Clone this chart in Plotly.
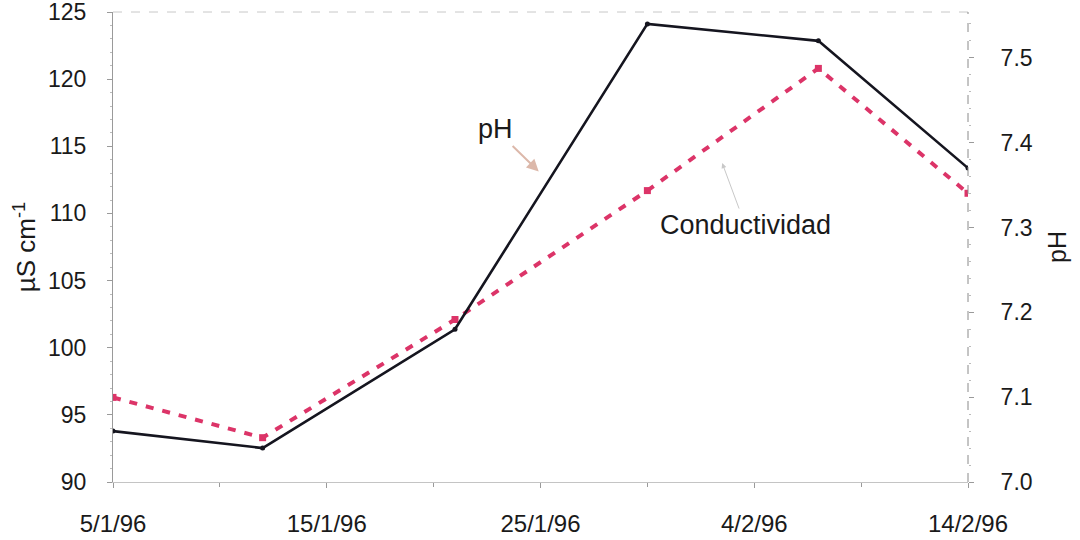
import plotly.graph_objects as go

# Data
fechas = ["1996-01-05", "1996-01-12", "1996-01-21", "1996-01-30", "1996-02-07", "1996-02-14"]
conductividad = [96.3, 93.3, 102.1, 111.7, 120.8, 111.5]   # µS cm-1 (left axis)
ph = [7.06, 7.04, 7.18, 7.54, 7.52, 7.37]                  # pH (right axis)

x_tick_vals = ["1996-01-05", "1996-01-15", "1996-01-25", "1996-02-04", "1996-02-14"]
x_tick_text = ["5/1/96", "15/1/96", "25/1/96", "4/2/96", "14/2/96"]
y_left_ticks = [90, 95, 100, 105, 110, 115, 120, 125]
y_right_ticks = [7.0, 7.1, 7.2, 7.3, 7.4, 7.5]

FONT = "Liberation Sans, Arial, sans-serif"
FS = 23
FA = 27
TXT = "#1a1a1a"
AX = "#9a9a9a"

fig = go.Figure()

fig.add_trace(go.Scatter(
    x=fechas, y=conductividad, name="Conductividad", yaxis="y",
    mode="lines+markers",
    line=dict(color="#dc3468", width=4, dash="8px,9px"),
    marker=dict(symbol="square", size=7, color="#dc3468"),
))
fig.add_trace(go.Scatter(
    x=fechas, y=ph, name="pH", yaxis="y2",
    mode="lines+markers",
    line=dict(color="#15151f", width=2.6),
    marker=dict(symbol="circle", size=5, color="#15151f"),
))

fig.update_layout(
    width=1080, height=540,
    margin=dict(l=113, r=112, t=12, b=58),
    paper_bgcolor="white", plot_bgcolor="white",
    showlegend=False,
    font=dict(family=FONT, size=FS, color=TXT),
    xaxis=dict(
        type="date", range=["1996-01-05", "1996-02-14"],
        tickvals=x_tick_vals, ticktext=x_tick_text,
        showgrid=False, zeroline=False, automargin=False,
        showline=True, linecolor="#c4c4c4", linewidth=1,
        ticks="outside", ticklen=5, tickcolor=AX,
        minor=dict(dtick=5 * 86400000, tick0="1996-01-05", ticks="outside", ticklen=4, tickcolor=AX),
        ticklabelstandoff=15, ticklabeloverflow="allow",
        tickfont=dict(family=FONT, size=24, color=TXT),
    ),
    yaxis=dict(
        range=[90, 125], tickvals=y_left_ticks,
        showgrid=False, zeroline=False, automargin=False,
        showline=True, linecolor=AX, linewidth=1,
        ticks="outside", ticklen=5, tickcolor=AX,
        minor=dict(dtick=1, ticks="outside", ticklen=2, tickcolor="#bbbbbb"),
        ticklabelstandoff=16, ticklabeloverflow="allow",
        tickfont=dict(family=FONT, size=FS, color=TXT),
        title=dict(text="µS cm<sup>-1</sup>", font=dict(family=FONT, size=26, color=TXT), standoff=4),
    ),
    yaxis2=dict(
        range=[7.0, 7.554], tickvals=y_right_ticks, tickformat=".1f",
        overlaying="y", side="right", automargin=False,
        showgrid=False, zeroline=False, showline=False,
        ticks="outside", ticklen=5, tickcolor=AX,
        minor=dict(dtick=0.02, ticks="outside", ticklen=2, tickcolor="#bbbbbb"),
        ticklabelstandoff=22, ticklabeloverflow="allow",
        tickfont=dict(family=FONT, size=FS, color=TXT),
        title=dict(text="pH", font=dict(family=FONT, size=25, color=TXT), standoff=16),
    ),
)

# dashed frame lines (top and right), as in the scanned original
fig.add_shape(type="line", xref="paper", yref="paper", x0=0, x1=1, y0=1, y1=1,
              line=dict(color="#c8c8c8", width=1, dash="dash"))
fig.add_shape(type="line", xref="paper", yref="paper", x0=1, x1=1, y0=0, y1=1,
              line=dict(color="#8a8a8a", width=1, dash="dash"))

# labels with small arrows
fig.add_annotation(x="1996-01-24 22:00", y=7.366, yref="y2", xref="x",
                   text="pH", showarrow=True, ax=-43, ay=-42,
                   arrowhead=2, arrowsize=1.2, arrowwidth=2, arrowcolor="#dcb8aa",
                   font=dict(family=FONT, size=FA, color=TXT))
fig.add_annotation(x="1996-02-02 12:00", y=113.75, yref="y", xref="x",
                   text="Conductividad", showarrow=True, ax=23, ay=62,
                   arrowhead=2, arrowsize=1, arrowwidth=1, arrowcolor="#c8c8c8",
                   font=dict(family=FONT, size=FA, color=TXT))

fig.write_html("out.html", config={"displayModeBar": False},
               post_script="document.body.style.margin='0';document.body.style.padding='0';")
